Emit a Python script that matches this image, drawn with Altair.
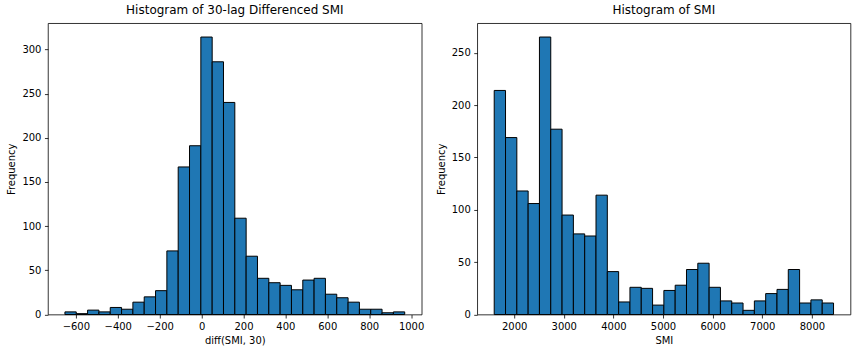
import altair as alt
import numpy as np
import pandas as pd

# ---- data ----
diff_range = [-652.0, 969.5]          # min / max of diff(SMI, 30)
diff_counts = [3, 1, 5, 3, 8, 6, 14, 20, 27, 72, 167, 191, 314, 286, 240,
               109, 66, 41, 36, 33, 28, 39, 41, 23, 19, 14, 6, 6, 2, 3]
diff_ticks = [-600, -400, -200, 0, 200, 400, 600, 800, 1000]
diff_yticks = [0, 50, 100, 150, 200, 250, 300]

smi_range = [1598.0, 8436.0]          # min / max of SMI
smi_counts = [214, 169, 118, 106, 265, 177, 95, 77, 75, 114, 41, 12, 26, 25, 9,
              23, 28, 43, 49, 26, 13, 11, 4, 13, 20, 24, 43, 11, 14, 11]
smi_ticks = [2000, 3000, 4000, 5000, 6000, 7000, 8000]
smi_yticks = [0, 50, 100, 150, 200, 250]

FONT = "DejaVu Sans"
BLUE = "#1f77b4"


def hist_frame(rng, counts):
    edges = np.linspace(rng[0], rng[1], len(counts) + 1)
    return pd.DataFrame({"start": edges[:-1], "end": edges[1:], "count": counts})


def panel(rng, counts, xticks, yticks, title, xtitle, width):
    df = hist_frame(rng, counts)
    span = rng[1] - rng[0]
    xdom = [rng[0] - 0.05 * span, rng[1] + 0.05 * span]
    ydom = [0, max(counts) * 1.05]
    return alt.Chart(df, title=alt.Title(title)).mark_bar(
        fill=BLUE, stroke="black", strokeWidth=1
    ).encode(
        x=alt.X("start:Q", scale=alt.Scale(domain=xdom, nice=False, zero=False),
                axis=alt.Axis(values=xticks, title=xtitle, format="d")),
        x2="end:Q",
        y=alt.Y("count:Q", scale=alt.Scale(domain=ydom, nice=False),
                axis=alt.Axis(values=yticks, title="Frequency", format="d")),
        y2=alt.datum(0),
    ).properties(width=width, height=291.7)


left = panel(diff_range, diff_counts, diff_ticks, diff_yticks,
             "Histogram of 30-lag Differenced SMI", "diff(SMI, 30)", 374.2)
right = panel(smi_range, smi_counts, smi_ticks, smi_yticks,
              "Histogram of SMI", "SMI", 373.7)

chart = alt.hconcat(left, right, spacing=54.8, bounds="flush").properties(
    padding={"left": 6, "top": 3, "right": 5, "bottom": 5},
    background="white",
).configure_view(
    stroke="black", strokeWidth=0.8
).configure_axis(
    domain=False, grid=False,
    tickColor="black", tickSize=3.5, tickWidth=0.8,
    labelFont=FONT, labelFontSize=10, labelColor="black", labelPadding=3.5,
    labelFlush=False, labelOverlap=False,
    titleFont=FONT, titleFontSize=10, titleColor="black", titleFontWeight="normal",
).configure_axisX(
    titlePadding=4,
).configure_axisY(
    titlePadding=5,
).configure_title(
    font=FONT, fontSize=12, fontWeight="normal", color="black",
    anchor="middle", offset=6, baseline="alphabetic",
)

chart.save("out.html", embed_options={"renderer": "svg", "actions": False})
